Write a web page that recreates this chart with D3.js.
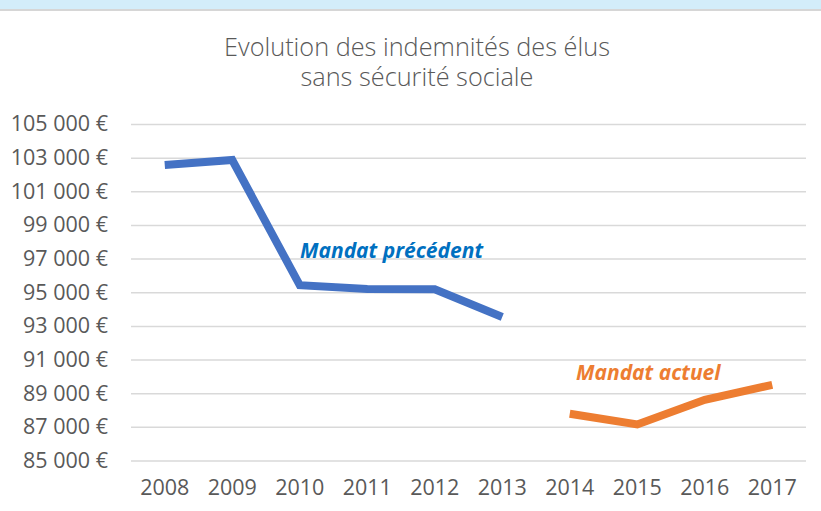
<!DOCTYPE html>
<html>
<head>
  <meta charset="utf-8">
  <title>Evolution des indemnités</title>
  <script src="https://d3js.org/d3.v7.min.js"></script>
  <style>
    body { margin: 0; background: #fff; }
    text { font-family: "Open Sans", "Liberation Sans", sans-serif; }
  </style>
</head>
<body>
  <div id="chart"></div>
  <script>
    // Data
    const years = ["2008", "2009", "2010", "2011", "2012", "2013", "2014", "2015", "2016", "2017"];
    const precedentYears = ["2008", "2009", "2010", "2011", "2012", "2013"];
    const precedentValues = [102560, 102860, 95420, 95200, 95180, 93530];
    const actuelYears = ["2014", "2015", "2016", "2017"];
    const actuelValues = [87780, 87140, 88610, 89500];
    const yTicks = [85000, 87000, 89000, 91000, 93000, 95000, 97000, 99000, 101000, 103000, 105000];
    const titleLines = ["Evolution des indemnités des élus", "sans sécurité sociale"];

    const width = 821, height = 511;
    const margin = { top: 124, right: 15, bottom: 50.5, left: 131 };

    const svg = d3.select("#chart")
      .append("svg")
      .attr("width", width)
      .attr("height", height);

    // top band
    svg.append("rect").attr("x", 0).attr("y", 0).attr("width", width).attr("height", 9).attr("fill", "#d3edfa");
    svg.append("rect").attr("x", 0).attr("y", 9).attr("width", width).attr("height", 2).attr("fill", "#d6d6d6");

    const x = d3.scaleBand()
      .domain(years)
      .range([margin.left, width - margin.right]);

    const y = d3.scaleLinear()
      .domain([85000, 105000])
      .range([height - margin.bottom, margin.top]);

    const fmt = v => d3.format(",")(v).replace(",", " ") + " €";

    // gridlines + y labels
    const yAxis = svg.append("g")
      .attr("transform", `translate(${margin.left},0)`)
      .call(d3.axisLeft(y).tickValues(yTicks).tickFormat(fmt)
        .tickSize(-(width - margin.left - margin.right)).tickPadding(23));
    yAxis.select(".domain").remove();
    yAxis.selectAll("line").attr("stroke", "#d9d9d9").attr("stroke-width", 1.5);
    yAxis.selectAll("text").attr("fill", "#595959").attr("font-size", 21.5);

    // x labels
    const xAxis = svg.append("g")
      .attr("transform", `translate(0,${height - margin.bottom})`)
      .call(d3.axisBottom(x).tickSize(0).tickPadding(19));
    xAxis.select(".domain").remove();
    xAxis.selectAll("text").attr("fill", "#595959").attr("font-size", 21.5);

    const line = d3.line()
      .x(d => x(d[0]) + x.bandwidth() / 2)
      .y(d => y(d[1]));

    svg.append("path")
      .datum(d3.zip(precedentYears, precedentValues))
      .attr("fill", "none")
      .attr("stroke", "#4472c4")
      .attr("stroke-width", 8)
      .attr("d", line);

    svg.append("path")
      .datum(d3.zip(actuelYears, actuelValues))
      .attr("fill", "none")
      .attr("stroke", "#ed7d31")
      .attr("stroke-width", 8)
      .attr("d", line);

    // title
    svg.append("text")
      .attr("text-anchor", "middle")
      .attr("fill", "#595959")
      .attr("font-size", 25.3)
      .attr("font-weight", 300)
      .selectAll("tspan")
      .data(titleLines)
      .join("tspan")
      .attr("x", 417)
      .attr("y", (d, i) => 56 + i * 30)
      .text(d => d);

    // annotations
    svg.append("text")
      .attr("x", 300).attr("y", 258)
      .attr("fill", "#0070c0")
      .attr("font-size", 21).attr("font-weight", "bold").attr("font-style", "italic")
      .text("Mandat précédent");

    svg.append("text")
      .attr("x", 576).attr("y", 380)
      .attr("fill", "#ed7d31")
      .attr("font-size", 21).attr("font-weight", "bold").attr("font-style", "italic")
      .text("Mandat actuel");
  </script>
</body>
</html>
